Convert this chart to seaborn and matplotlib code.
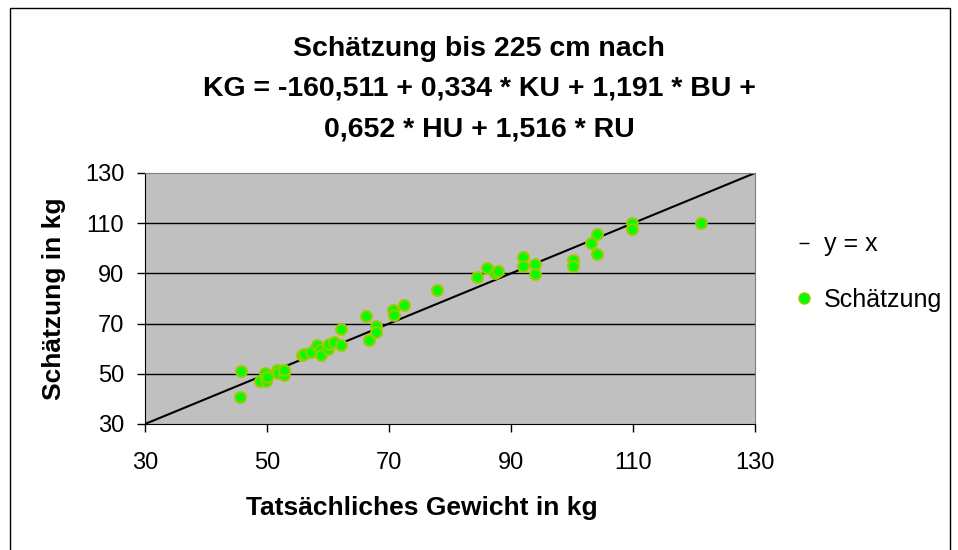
import matplotlib
matplotlib.use("Agg")
import matplotlib.pyplot as plt
import seaborn as sns
import pandas as pd
from matplotlib.patches import Rectangle
from matplotlib.lines import Line2D

actual = [45.8, 45.5, 48.8, 49.7, 49.9, 50.0, 51.7, 51.8, 52.8, 52.8,
          55.7, 56.0, 57.2, 58.2, 58.7, 58.8, 60.0, 60.2, 61.0, 62.1,
          62.2, 66.2, 66.8, 67.9, 67.9, 70.6, 70.9, 72.5, 77.8, 84.4,
          86.0, 87.3, 87.9, 91.9, 91.9, 93.9, 93.9, 100.2, 100.2, 103.1,
          104.1, 104.1, 109.9, 109.9, 121.2]
estimate = [51.2, 40.8, 47.3, 50.4, 47.3, 48.6, 51.7, 50.4, 49.6, 51.7,
            57.3, 58.0, 58.5, 61.6, 59.3, 57.3, 60.0, 62.0, 62.6, 61.6,
            68.0, 72.9, 63.3, 68.9, 66.6, 75.3, 73.6, 77.6, 83.2, 88.6,
            92.0, 90.2, 91.0, 96.6, 93.0, 93.7, 89.6, 95.3, 92.9, 102.2,
            105.6, 97.6, 110.2, 107.6, 110.2]
line_xy = [30, 130]
ticks = [30, 50, 70, 90, 110, 130]

df = pd.DataFrame({"Tatsächliches Gewicht in kg": actual, "Schätzung in kg": estimate})

sns.set_style("white")
plt.rcParams["font.family"] = ["Liberation Sans", "DejaVu Sans"]
plt.rcParams["text.color"] = "black"
plt.rcParams["axes.labelcolor"] = "black"
plt.rcParams["xtick.color"] = "black"
plt.rcParams["ytick.color"] = "black"

fig = plt.figure(figsize=(9.58, 5.5), dpi=100)
ax = fig.add_axes([145 / 958, 1 - 424 / 550, 610 / 958, 251 / 550])
ax.set_facecolor("#C0C0C0")

# outer chart frame (bottom edge runs off the image)
fig.patches.append(Rectangle((10 / 958, -0.05), 940 / 958, 1 - 8 / 550 + 0.05,
                             transform=fig.transFigure, fill=False,
                             edgecolor="black", linewidth=1))

for yv in ticks[1:-1]:
    ax.axhline(yv, color="black", linewidth=1, zorder=1)

ax.plot(line_xy, line_xy, color="black", linewidth=1.5, zorder=2)
sns.scatterplot(data=df, x="Tatsächliches Gewicht in kg", y="Schätzung in kg",
                ax=ax, color="#00FF00", edgecolor="#99CC00", linewidth=1.5,
                s=60, zorder=3, legend=False)

ax.set_xlim(30, 130)
ax.set_ylim(30, 130)
ax.set_xticks(ticks)
ax.set_yticks(ticks)
ax.tick_params(axis="both", direction="out", length=6, width=1, labelsize=17,
               bottom=True, left=True)
ax.tick_params(axis="x", pad=14)
ax.tick_params(axis="y", pad=9)
for side in ["top", "right"]:
    ax.spines[side].set_color("#808080")
for side in ["left", "bottom"]:
    ax.spines[side].set_color("black")

ax.set_xlabel("Tatsächliches Gewicht in kg", fontsize=19, fontweight="bold")
ax.set_ylabel("Schätzung in kg", fontsize=19, fontweight="bold")
ax.xaxis.set_label_coords((422 - 145) / 610, -(508 - 424) / 251)
ax.xaxis.label.set_va("center")
ax.yaxis.set_label_coords(-(145 - 54) / 610, 0.5)
ax.yaxis.label.set_va("center")

fig.text(0.5, 1 - 89 / 550,
         "Schätzung bis 225 cm nach\nKG = -160,511 + 0,334 * KU + 1,191 * BU +\n0,652 * HU + 1,516 * RU",
         ha="center", va="center", fontsize=20.5, fontweight="bold", linespacing=1.72)

handles = [Line2D([], [], color="black", marker="_", linestyle="none", markersize=7),
           Line2D([], [], color="#00FF00", marker="o", markeredgecolor="#99CC00",
                  linestyle="none", markersize=8)]
fig.legend(handles, ["y = x", "Schätzung"], loc="center left",
           bbox_to_anchor=(774 / 958, 1 - 272 / 550), frameon=False,
           fontsize=18, labelspacing=1.25, handlelength=0.6, handletextpad=0.5)

fig.savefig("out.png", dpi=100)
